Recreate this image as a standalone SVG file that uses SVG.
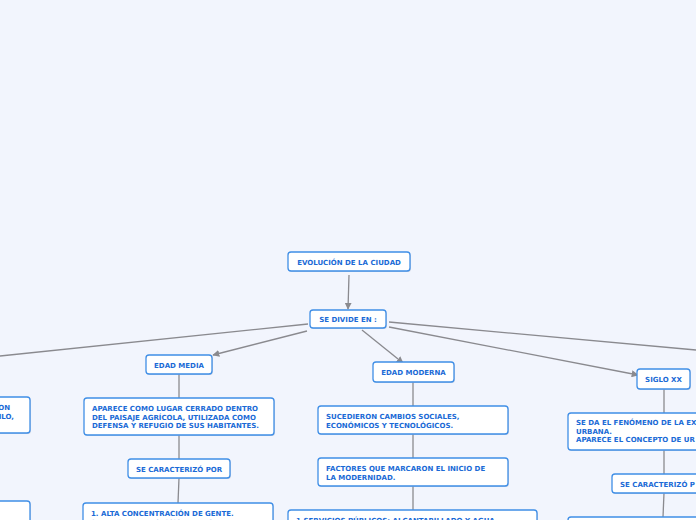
<svg xmlns="http://www.w3.org/2000/svg" width="696" height="520" viewBox="0 0 696 520">
<defs>
<style>
.bx{fill:#fff;stroke:#3f8ee6;stroke-width:1.3}
.sh{fill:#b8c2d6;opacity:0.6}
.t{font-family:"DejaVu Sans",Verdana,sans-serif;font-weight:bold;font-size:7px;fill:#1a6ad6}
.c{text-anchor:middle}
.ln{stroke:#8a8a8f;stroke-width:1.3;fill:none}
</style>
<marker id="ah" viewBox="0 0 10 10" refX="9" refY="5" markerWidth="7" markerHeight="7" markerUnits="userSpaceOnUse" orient="auto">
<path d="M0,0 L10,5 L0,10 z" fill="#8a8a8f"/>
</marker>
</defs>
<rect width="696" height="520" fill="#f2f5fd"/>
<g id="connectors">
<line class="ln" x1="349" y1="275" x2="348" y2="309" marker-end="url(#ah)"/>
<line class="ln" x1="307" y1="331" x2="213" y2="355" marker-end="url(#ah)"/>
<line class="ln" x1="308" y1="324" x2="0" y2="356"/>
<line class="ln" x1="362" y1="330" x2="403" y2="363" marker-end="url(#ah)"/>
<line class="ln" x1="389" y1="327" x2="638" y2="375" marker-end="url(#ah)"/>
<line class="ln" x1="389" y1="322" x2="696" y2="350"/>
<line class="ln" x1="179" y1="374" x2="179" y2="398"/>
<line class="ln" x1="179" y1="435" x2="179" y2="459"/>
<line class="ln" x1="179" y1="478" x2="178" y2="503"/>
<line class="ln" x1="413" y1="382" x2="413" y2="406"/>
<line class="ln" x1="413" y1="434" x2="413" y2="458"/>
<line class="ln" x1="413" y1="486" x2="413" y2="510"/>
<line class="ln" x1="664" y1="389" x2="664" y2="413"/>
<line class="ln" x1="664" y1="450" x2="664" y2="474"/>
<line class="ln" x1="664" y1="493" x2="663" y2="517"/>
</g>
<g id="n-evolucion">
<rect class="sh" x="289" y="253" width="122" height="19" rx="3"/>
<rect class="bx" x="288" y="252" width="122" height="19" rx="3"/>
<text class="t c" x="349" y="264.5">EVOLUCIÓN DE LA CIUDAD</text>
</g>
<g id="n-divide">
<rect class="sh" x="311" y="311" width="76" height="18" rx="3"/>
<rect class="bx" x="310" y="310" width="76" height="18" rx="3"/>
<text class="t c" x="348" y="322">SE DIVIDE EN :</text>
</g>
<g id="n-left1">
<rect class="sh" x="-9" y="398" width="40" height="36" rx="3"/>
<rect class="bx" x="-10" y="397" width="40" height="36" rx="3"/>
<text class="t" x="10" y="410" text-anchor="end">ON</text>
<text class="t" x="14" y="418.5" text-anchor="end">ILO,</text>
</g>
<g id="n-left2">
<rect class="sh" x="-9" y="502" width="40" height="30" rx="3"/>
<rect class="bx" x="-10" y="501" width="40" height="30" rx="3"/>
</g>
<g id="n-edadmedia">
<rect class="sh" x="147" y="356" width="66" height="19" rx="3"/>
<rect class="bx" x="146" y="355" width="66" height="19" rx="3"/>
<text class="t c" x="179" y="367.5">EDAD MEDIA</text>
</g>
<g id="n-aparece">
<rect class="sh" x="85" y="399" width="190" height="37" rx="3"/>
<rect class="bx" x="84" y="398" width="190" height="37" rx="3"/>
<text class="t" x="92" y="411">APARECE COMO LUGAR CERRADO DENTRO</text>
<text class="t" x="92" y="419.5">DEL PAISAJE AGRÍCOLA, UTILIZADA COMO</text>
<text class="t" x="92" y="428">DEFENSA Y REFUGIO DE SUS HABITANTES.</text>
</g>
<g id="n-caract1">
<rect class="sh" x="129" y="460" width="102" height="19" rx="3"/>
<rect class="bx" x="128" y="459" width="102" height="19" rx="3"/>
<text class="t c" x="179" y="471.5">SE CARACTERIZÓ POR</text>
</g>
<g id="n-alta">
<rect class="sh" x="84" y="504" width="190" height="30" rx="3"/>
<rect class="bx" x="83" y="503" width="190" height="30" rx="3"/>
<text class="t" x="91" y="516">1. ALTA CONCENTRACIÓN DE GENTE.</text>
<text class="t" x="91" y="524.5">2. AMBIENTE PROPICIO PARA GENERAR</text>
</g>
<g id="n-moderna">
<rect class="sh" x="374" y="363" width="81" height="20" rx="3"/>
<rect class="bx" x="373" y="362" width="81" height="20" rx="3"/>
<text class="t c" x="413.5" y="375">EDAD MODERNA</text>
</g>
<g id="n-sucedieron">
<rect class="sh" x="319" y="407" width="190" height="28" rx="3"/>
<rect class="bx" x="318" y="406" width="190" height="28" rx="3"/>
<text class="t" x="326" y="419">SUCEDIERON CAMBIOS SOCIALES,</text>
<text class="t" x="326" y="427.5">ECONÓMICOS Y TECNOLÓGICOS.</text>
</g>
<g id="n-factores">
<rect class="sh" x="319" y="459" width="190" height="28" rx="3"/>
<rect class="bx" x="318" y="458" width="190" height="28" rx="3"/>
<text class="t" x="326" y="471">FACTORES QUE MARCARON EL INICIO DE</text>
<text class="t" x="326" y="479.5">LA MODERNIDAD.</text>
</g>
<g id="n-servicios">
<rect class="sh" x="289" y="511" width="249" height="30" rx="3"/>
<rect class="bx" x="288" y="510" width="249" height="30" rx="3"/>
<text class="t" x="296" y="523">1.SERVICIOS PÚBLICOS: ALCANTARILLADO Y AGUA</text>
</g>
<g id="n-siglo">
<rect class="sh" x="638" y="370" width="53" height="20" rx="3"/>
<rect class="bx" x="637" y="369" width="53" height="20" rx="3"/>
<text class="t c" x="663.5" y="382">SIGLO XX</text>
</g>
<g id="n-seda">
<rect class="sh" x="569" y="414" width="140" height="37" rx="3"/>
<rect class="bx" x="568" y="413" width="140" height="37" rx="3"/>
<text class="t" x="576" y="425">SE DA EL FENÓMENO DE LA EX</text>
<text class="t" x="576" y="433.5">URBANA.</text>
<text class="t" x="576" y="442">APARECE EL CONCEPTO DE UR</text>
</g>
<g id="n-caract2">
<rect class="sh" x="613" y="475" width="100" height="19" rx="3"/>
<rect class="bx" x="612" y="474" width="100" height="19" rx="3"/>
<text class="t" x="620" y="486.5">SE CARACTERIZÓ P</text>
</g>
<g id="n-right-bottom">
<rect class="sh" x="569" y="518" width="140" height="30" rx="3"/>
<rect class="bx" x="568" y="517" width="140" height="30" rx="3"/>
</g>
</svg>
